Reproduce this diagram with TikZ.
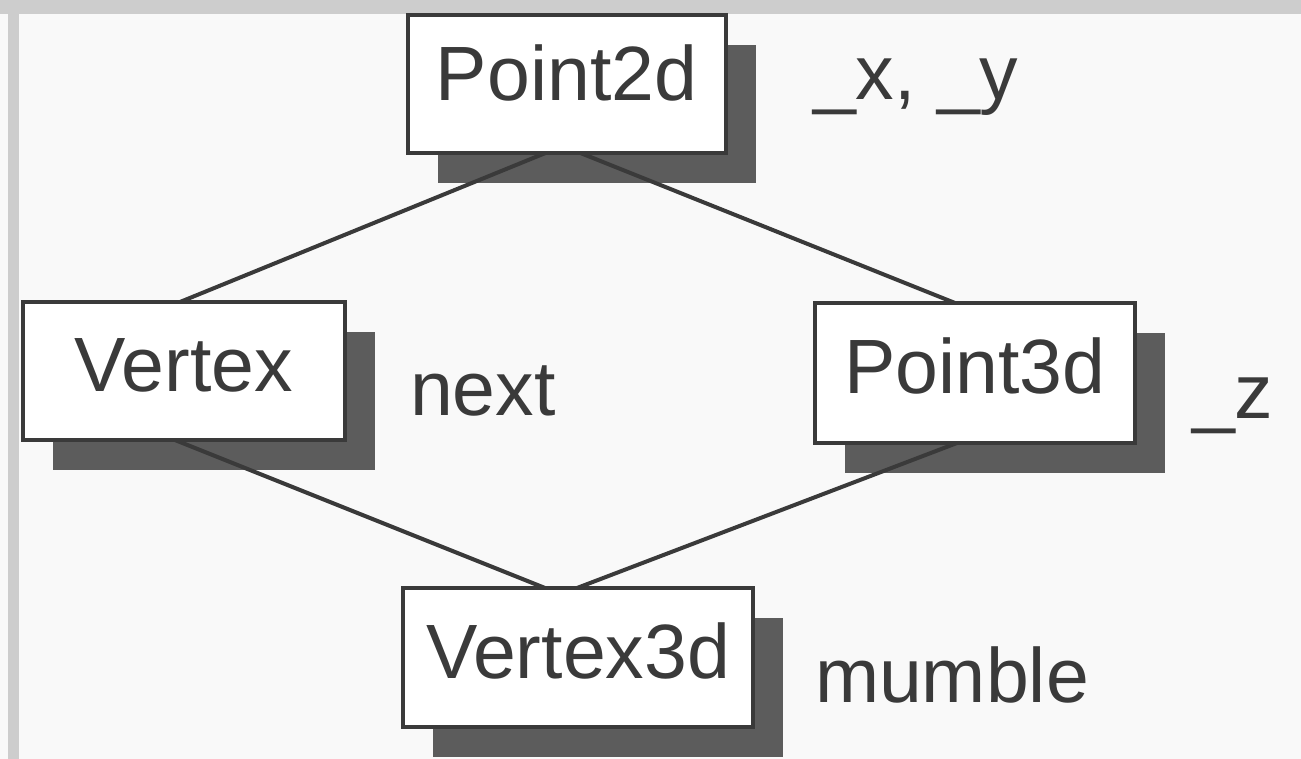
\documentclass[tikz,border=0pt]{standalone}
\usepackage{fontspec}
\setmainfont{Liberation Sans}
\usetikzlibrary{shadows}
\definecolor{bg}{HTML}{F9F9F9}
\definecolor{ink}{HTML}{3A3A3A}
\definecolor{shade}{HTML}{5C5C5C}
\definecolor{band}{HTML}{CDCDCD}
\begin{document}
\begin{tikzpicture}[x=1pt,y=-1pt,
  box/.style={draw=ink, line width=4pt, fill=white, inner sep=0pt, outer sep=0pt,
    text height=55pt, text depth=14pt, font=\fontsize{77}{92}\selectfont, text=ink,
    drop shadow={shadow xshift=30pt, shadow yshift=-30pt, fill=shade, opacity=1}},
  lbl/.style={anchor=base west, inner sep=0pt, outer sep=0pt, font=\fontsize{77}{92}\selectfont, text=ink},
  link/.style={draw=ink, line width=4pt}]
\fill[bg] (0,0) rectangle (1301,759);
\fill[band] (0,0) rectangle (1301,14);
\fill[band] (8,0) rectangle (19,759);
\useasboundingbox (0,0) rectangle (1301,759);
\node[box, minimum width=318pt, minimum height=138pt, text depth=21pt] (p2) at (566.5,84) {Point2d};
\node[box, minimum width=322pt, minimum height=138pt] (v) at (184,371) {Vertex};
\node[box, minimum width=320pt, minimum height=140pt] (p3) at (975,373) {Point3d};
\node[box, minimum width=350pt, minimum height=139pt] (v3) at (578,657.5) {Vertex3d};
\draw[link] ([xshift=-21pt]p2.south) -- ([xshift=-4pt]v.north);
\draw[link] ([xshift=14pt]p2.south) -- ([xshift=-20pt]p3.north);
\draw[link] ([xshift=-9pt]v.south) -- ([xshift=-33pt]v3.north);
\draw[link] ([xshift=-18pt]p3.south) -- ([xshift=-1pt]v3.north);
\node[lbl] (l1) at (813,100) {\_x, \_y};
\node[lbl] (l2) at (410,415) {next};
\node[lbl] (l3) at (1192,418) {\_z};
\node[lbl] (l4) at (815,702) {mumble};
\end{tikzpicture}
\end{document}
